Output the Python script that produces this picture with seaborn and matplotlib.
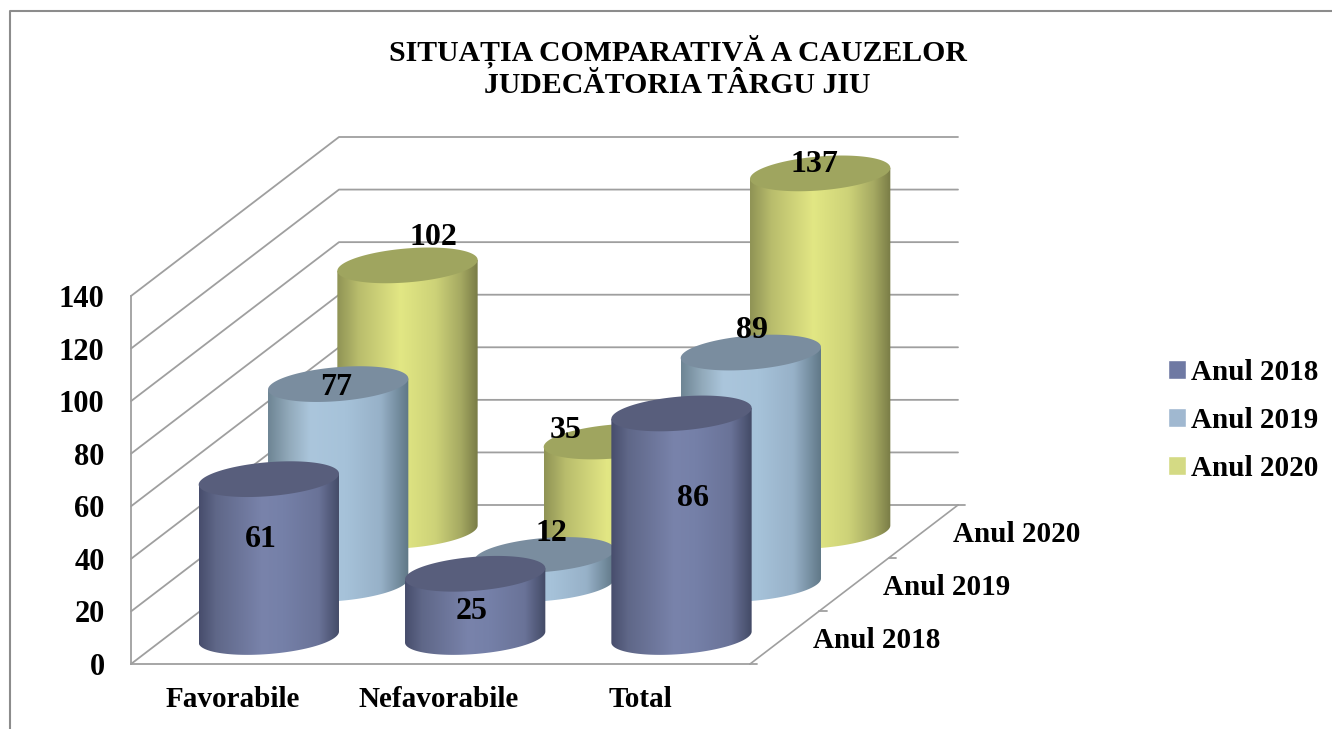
import numpy as np
import pandas as pd
import matplotlib
matplotlib.use('Agg')
import matplotlib.pyplot as plt
import seaborn as sns
from matplotlib.colors import LinearSegmentedColormap
from matplotlib.lines import Line2D
from matplotlib.patches import PathPatch, Polygon
from matplotlib.path import Path
from matplotlib.transforms import ScaledTranslation

categories = ['Favorabile', 'Nefavorabile', 'Total']
years = ['Anul 2018', 'Anul 2019', 'Anul 2020']
values_2018 = [61, 25, 86]
values_2019 = [77, 12, 89]
values_2020 = [102, 35, 137]
y_ticks = [0, 20, 40, 60, 80, 100, 120, 140]

title = 'SITUAȚIA COMPARATIVĂ A CAUZELOR\nJUDECĂTORIA TÂRGU JIU'

legend_colors = ['#6f79a3', '#a0b8d0', '#d4da84']
top_colors = ['#585e7c', '#7a8d9f', '#9fa55f']
gradients = [
    [(0, '#474d6c'), (.12, '#5f6788'), (.45, '#7983ab'), (.6, '#7580a8'), (.85, '#6a7398'), (1, '#434a66')],
    [(0, '#6e8594'), (.15, '#92aabb'), (.3, '#abc6dc'), (.55, '#a6c2d9'), (.8, '#97b1c8'), (1, '#5f7786')],
    [(0, '#8f9355'), (.15, '#b8bc6c'), (.45, '#e2e784'), (.7, '#cdd278'), (.88, '#a5a962'), (1, '#797c46')],
]
# where each value label sits, pixels from the centre of the cylinder top
label_shift = [
    [(-8, -62), (-4, -40), (11, -87)],
    [(-2, -5), (7, 19), (1, 20)],
    [(26, 26), (-48, 9), (-6, 7)],
]
# the category labels are not quite evenly spaced in the original
xlabel_shift = [-1, -2, -6]

GRID = '#9f9f9f'
FS_TEXT = 21
FS_NUM = 22
FS_VAL = 23
FS_TITLE = 21.4

sns.set_style('white')
plt.rcParams['font.family'] = 'Liberation Serif'
plt.rcParams['font.weight'] = 'bold'
plt.rcParams['text.color'] = 'black'

df = pd.DataFrame({
    'categorie': categories * 3,
    'an': [y for y in years for _ in categories],
    'valoare': values_2018 + values_2019 + values_2020,
})

fig = plt.figure(figsize=(13.32, 7.29), dpi=100)
ax = fig.add_axes([131 / 1332, 65 / 729, 619 / 1332, 368 / 729])

sns.barplot(data=df, x='categorie', y='valoare', hue='an', hue_order=years, dodge=False,
            width=0.68, palette=legend_colors, saturation=1, ax=ax)
ax.set_xlim(-0.5, 2.5)
ax.set_ylim(0, 140)

px_y = 368 / 140  # pixels per value unit

# one row of depth, in data units of the front plane
row_dx = 208 / 3 / (619 / 3)
row_dy = 53 / px_y
back_dx, back_dy = 3 * row_dx, 3 * row_dy

for v in y_ticks:
    ax.plot([-0.5, -0.5 + back_dx, 2.5 + back_dx], [v, v + back_dy, v + back_dy],
            color=GRID, lw=1.3, clip_on=False, zorder=1)
ax.plot([2.5, 2.5 + back_dx], [0, back_dy], color=GRID, lw=1.2, clip_on=False, zorder=1)
for r in range(4):
    ax.plot([2.5 + r * row_dx, 2.5 + r * row_dx + 0.035], [r * row_dy] * 2, color=GRID, lw=1.3,
            clip_on=False, zorder=1)

b_h = 17 / px_y
k_h = 5.5 / px_y
base_nudge = 0.5 / px_y
top_nudge = -2 / px_y
t_arc = np.linspace(0, 2 * np.pi, 181)
z = 10
bars_info = []
for row in [2, 1, 0]:
    for col, bar in enumerate(ax.containers[row]):
        bar.set_visible(False)
        a = bar.get_width() / 2
        xc = bar.get_x() + a + (row + 0.5) * row_dx
        y0 = (row + 0.5) * row_dy + base_nudge
        y1 = (row + 0.5) * row_dy + bar.get_height() + top_nudge

        # body: the two sides and the front half of the base circle
        t_low = np.linspace(np.pi, 2 * np.pi, 91)
        xs = xc + a * np.cos(t_low)
        ys = y0 + b_h * np.sin(t_low) + k_h * np.cos(t_low)
        body_xy = np.vstack([[[xc - a, y1 - k_h], [xc + a, y1 + k_h]], [[xc + a, y0 + k_h]],
                             np.column_stack([xs[::-1], ys[::-1]])])
        clip = PathPatch(Path(np.vstack([body_xy, body_xy[0]]), closed=True), transform=ax.transData)
        cmap = LinearSegmentedColormap.from_list(f'cyl{row}', gradients[row])
        im = ax.imshow(np.linspace(0, 1, 256).reshape(1, -1), cmap=cmap, aspect='auto',
                       extent=(xc - a, xc + a, y0 - b_h - k_h, y1 + k_h), zorder=z)
        im.set_clip_box(fig.bbox)
        im.set_clip_path(clip)

        top_xy = np.column_stack([xc + a * np.cos(t_arc),
                                  y1 + b_h * np.sin(t_arc) + k_h * np.cos(t_arc)])
        ax.add_patch(Polygon(top_xy, closed=True, facecolor=top_colors[row], edgecolor='none',
                             clip_on=False, zorder=z + 0.5))
        bars_info.append((row, col, xc, y1 - top_nudge, int(bar.get_height())))
        z += 1

for row, col, xc, y1, v in bars_info:
    dx, dy = label_shift[row][col]
    ax.annotate(str(v), xy=(xc, y1), xytext=(dx, dy), textcoords='offset pixels', ha='center',
                va='center', fontsize=FS_VAL, color='black', zorder=100, annotation_clip=False)

# depth axis labels
for r, year in enumerate(years):
    ax.annotate(year, xy=(2.5 + (r + 0.5) * row_dx, (r + 0.5) * row_dy), xytext=(28 + r, -3),
                textcoords='offset pixels', ha='left', va='center', fontsize=FS_TEXT,
                annotation_clip=False)

ax.set_xlim(-0.5, 2.5)
ax.set_ylim(0, 140)
ax.set_xlabel('')
ax.set_ylabel('')
ax.set_yticks(y_ticks)
ax.tick_params(axis='both', length=0, labelcolor='black')
ax.tick_params(axis='x', labelsize=FS_TEXT, pad=16)
ax.tick_params(axis='y', labelsize=FS_NUM, pad=19)
for lab, dx in zip(ax.get_xticklabels(), xlabel_shift):
    lab.set_transform(lab.get_transform() + ScaledTranslation(dx / 100, 0, fig.dpi_scale_trans))
ax.patch.set_alpha(0)
sns.despine(ax=ax)
for side in ['left', 'bottom']:
    ax.spines[side].set_color(GRID)
    ax.spines[side].set_linewidth(1.3)

sns.move_legend(ax, 'center left', bbox_to_anchor=(1168 / 1332, (729 - 420.5) / 729),
                bbox_transform=fig.transFigure, title=None, frameon=False, fontsize=FS_TEXT,
                handlelength=0.62, handleheight=0.62, handletextpad=0.18, labelspacing=0.72,
                borderpad=0, borderaxespad=0)

fig.text(677.5 / 1332, (729 - 67) / 729, title, ha='center', va='center', fontsize=FS_TITLE,
         linespacing=1.2, color='black')

# chart frame, cut off at the right and bottom of the picture
fig.add_artist(Line2D([9.5 / 1332, 9.5 / 1332, 1], [0, (729 - 10.5) / 729, (729 - 10.5) / 729],
                      color='#8c8c8c', lw=1.5))

fig.savefig('out.png', dpi=100)
